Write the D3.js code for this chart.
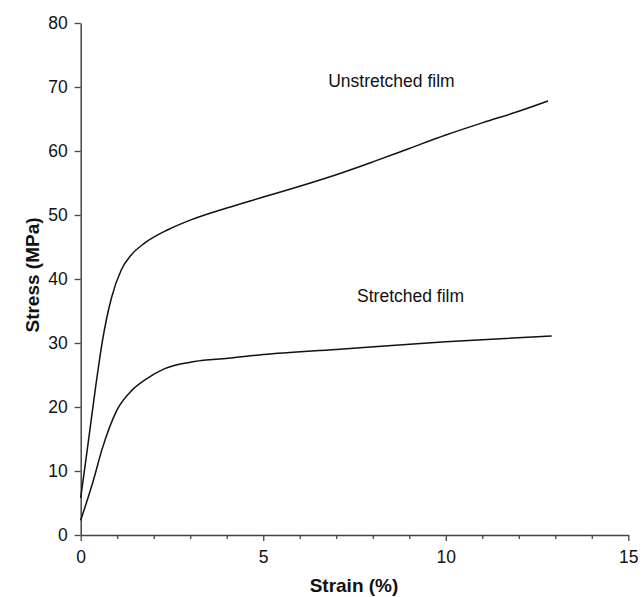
<!DOCTYPE html>
<html><head><meta charset="utf-8">
<script src="https://cdn.jsdelivr.net/npm/d3@7"></script>
<style>body{margin:0;background:#fff;}svg text{font-family:"Liberation Sans",Arial,sans-serif;fill:#111;}</style>
</head><body>
<svg id="c" width="642" height="597"></svg>
<script>
const xTicks = [0,5,10,15];
const yTicks = [0,10,20,30,40,50,60,70,80];
const unstretchedStrain = [0,0.2,0.42,0.6,0.84,1.11,1.39,1.75,2.39,3,4,5,6,7,8,9,10,11,12,12.8];
const unstretchedStress = [5.8,14.2,23.6,30.5,37.0,41.4,43.8,45.6,47.7,49.2,51.1,52.8,54.5,56.3,58.3,60.4,62.5,64.4,66.2,67.8];
const stretchedStrain = [0,0.35,0.58,1.0,1.4,1.75,2.3,3.12,4.04,5,7,10,12.9];
const stretchedStress = [2.3,8.6,13.3,19.6,22.6,24.2,26.0,27.1,27.6,28.2,29.0,30.2,31.1];
const labels = [{text:"Unstretched film", x:6.78, y:70.0},{text:"Stretched film", x:7.57, y:36.4}];

const svg = d3.select("#c");
const x = d3.scaleLinear().domain([0,15]).range([80.7,628.3]);
const y = d3.scaleLinear().domain([0,80]).range([535,23]);

const xa = svg.append("g").attr("transform","translate(0,535)")
  .call(d3.axisBottom(x).tickValues(d3.range(0,16,1)).tickSize(4).tickSizeOuter(0)
     .tickFormat(d=>xTicks.includes(d)?d:""));
xa.selectAll(".tick line").attr("y2",d=>xTicks.includes(d)?6:4);
const ya = svg.append("g").attr("transform","translate(80.7,0)")
  .call(d3.axisLeft(y).tickValues(yTicks).tickSize(6).tickSizeOuter(0).tickPadding(7));
[xa,ya].forEach(a=>{
  a.select(".domain").attr("stroke","#444").attr("stroke-width",1.5);
  a.selectAll(".tick line").attr("stroke","#444").attr("stroke-width",1.3);
  a.selectAll(".tick text").attr("font-size",17.5).style("font-family","Liberation Sans, Arial, sans-serif").attr("fill","#111");
});
xa.selectAll(".tick text").attr("y",28).attr("dy","0");

const line = d3.line().x(d=>x(d[0])).y(d=>y(d[1])).curve(d3.curveMonotoneX);
svg.append("path").datum(unstretchedStrain.map((s,i)=>[s,unstretchedStress[i]]))
  .attr("d",line).attr("fill","none").attr("stroke","#111").attr("stroke-width",1.5);
svg.append("path").datum(stretchedStrain.map((s,i)=>[s,stretchedStress[i]]))
  .attr("d",line).attr("fill","none").attr("stroke","#111").attr("stroke-width",1.5);

labels.forEach(l=>svg.append("text").attr("x",x(l.x)).attr("y",y(l.y)).attr("font-size",17.5).text(l.text));

svg.append("text").attr("x",354).attr("y",592).attr("text-anchor","middle")
  .attr("font-size",19).attr("font-weight","bold").text("Strain (%)");
svg.append("text").attr("transform","translate(39,275) rotate(-90)").attr("text-anchor","middle")
  .attr("font-size",19).attr("font-weight","bold").text("Stress (MPa)");
</script>
</body></html>
